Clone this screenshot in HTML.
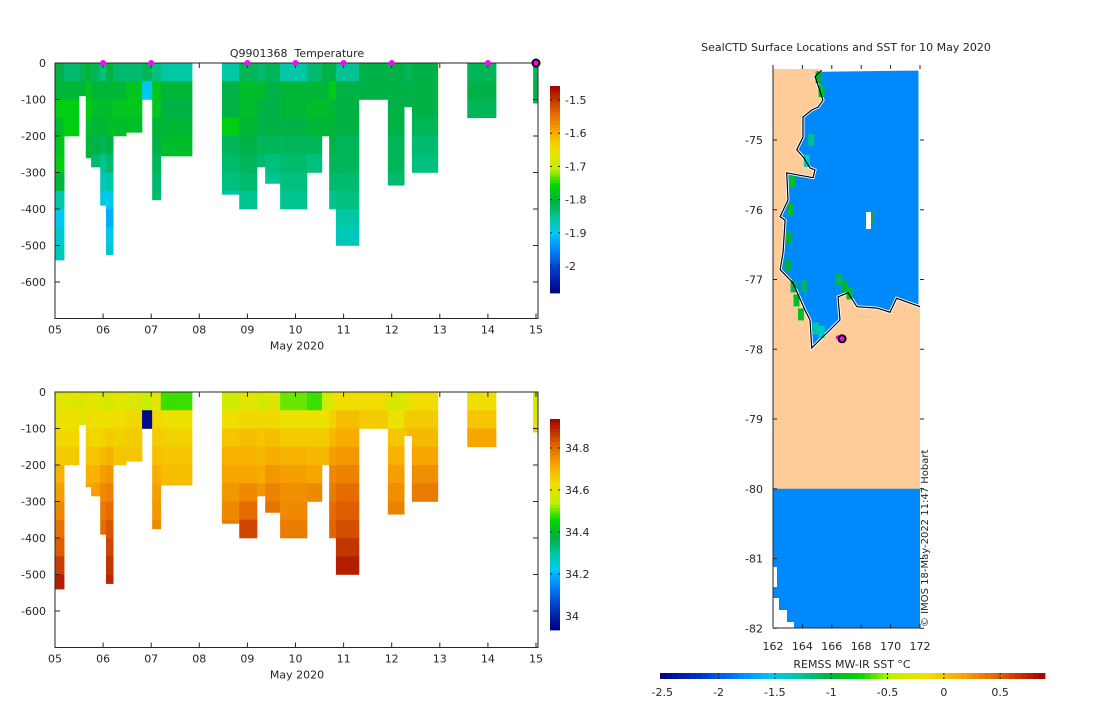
<!DOCTYPE html>
<html><head><meta charset="utf-8">
<style>
html,body{margin:0;padding:0;background:#fff;}
svg text{font-family:"DejaVu Sans","Liberation Sans",sans-serif;fill:#262626;white-space:pre;}
</style></head>
<body>
<svg id="fig" width="1100" height="700" viewBox="0 0 1100 700" xmlns="http://www.w3.org/2000/svg">
<rect x="0" y="0" width="1100" height="700" fill="#fff"/>
<g id="top"></g>
<g id="bot"></g>
<g id="map"></g>
</svg>
<script>
// ---- profile data ----
const colStart=[5.00,5.19,5.50,5.64,5.75,5.94,6.06,6.21,6.48,6.81,7.02,7.20,8.47,8.83,9.20,9.37,9.68,10.24,10.55,10.70,10.84,11.32,11.92,12.26,12.42,13.57,14.94];
const colEnd=[5.19,5.50,5.64,5.75,5.94,6.06,6.21,6.48,6.81,7.02,7.20,7.85,8.83,9.20,9.37,9.68,10.24,10.55,10.70,10.84,11.32,11.92,12.26,12.42,12.96,14.17,15.04];
const colDepth=[540,200,90,260,285,390,525,200,190,100,375,255,360,400,285,330,400,300,200,400,500,100,335,120,300,150,110];
const tempProfiles=[
[-1.81,-1.80,-1.77,-1.79,-1.78,-1.77,-1.80,-1.86,-1.90,-1.88,-1.87],
[-1.83,-1.80,-1.77,-1.77],
[-1.82,-1.80],
[-1.80,-1.78,-1.77,-1.79,-1.80,-1.81],
[-1.82,-1.80,-1.79,-1.80,-1.81,-1.83],
[-1.84,-1.80,-1.79,-1.80,-1.82,-1.85,-1.87,-1.89],
[-1.81,-1.80,-1.79,-1.79,-1.81,-1.83,-1.86,-1.90,-1.92,-1.90,-1.88],
[-1.83,-1.80,-1.78,-1.79],
[-1.83,-1.78,-1.78,-1.79],
[-1.82,-1.90],
[-1.84,-1.78,-1.78,-1.80,-1.81,-1.82,-1.83,-1.83],
[-1.86,-1.80,-1.81,-1.80,-1.79,-1.80],
[-1.86,-1.81,-1.81,-1.77,-1.82,-1.83,-1.84,-1.86],
[-1.82,-1.79,-1.79,-1.80,-1.81,-1.82,-1.83,-1.85],
[-1.83,-1.79,-1.81,-1.81,-1.82,-1.83],
[-1.82,-1.81,-1.81,-1.81,-1.82,-1.84,-1.85],
[-1.86,-1.80,-1.80,-1.81,-1.82,-1.83,-1.84,-1.85],
[-1.83,-1.80,-1.79,-1.80,-1.82,-1.84],
[-1.81,-1.80,-1.79,-1.80],
[-1.81,-1.77,-1.80,-1.80,-1.81,-1.82,-1.83,-1.85],
[-1.85,-1.81,-1.81,-1.81,-1.82,-1.82,-1.83,-1.84,-1.86,-1.87],
[-1.81,-1.81],
[-1.81,-1.81,-1.81,-1.81,-1.82,-1.82,-1.83],
[-1.82,-1.81,-1.81],
[-1.81,-1.81,-1.81,-1.82,-1.83,-1.84],
[-1.82,-1.81,-1.82],
[-1.82,-1.81,-1.81]];
const salProfiles=[
[34.60,34.62,34.64,34.66,34.70,34.73,34.76,34.79,34.82,34.86,34.90],
[34.59,34.62,34.64,34.66],
[34.58,34.60],
[34.60,34.63,34.65,34.67,34.70,34.72],
[34.60,34.62,34.64,34.67,34.70,34.73],
[34.58,34.62,34.65,34.69,34.73,34.76,34.78,34.80],
[34.58,34.62,34.66,34.70,34.74,34.77,34.80,34.83,34.85,34.87,34.89],
[34.60,34.63,34.65,34.67],
[34.59,34.64,34.66,34.67],
[34.55,33.95],
[34.60,34.64,34.66,34.68,34.71,34.73,34.74,34.76],
[34.48,34.62,34.65,34.67,34.68,34.69],
[34.56,34.63,34.67,34.70,34.72,34.74,34.76,34.78],
[34.60,34.64,34.68,34.70,34.72,34.76,34.80,34.85],
[34.56,34.64,34.67,34.69,34.71,34.74],
[34.59,34.64,34.68,34.71,34.74,34.77,34.79],
[34.50,34.62,34.66,34.70,34.73,34.75,34.76,34.78],
[34.48,34.62,34.66,34.69,34.72,34.76],
[34.56,34.62,34.66,34.69],
[34.60,34.65,34.69,34.73,34.76,34.78,34.80,34.81],
[34.63,34.68,34.71,34.74,34.77,34.80,34.82,34.84,34.87,34.90],
[34.63,34.66],
[34.58,34.62,34.67,34.70,34.73,34.75,34.77],
[34.60,34.66,34.68],
[34.63,34.66,34.69,34.72,34.75,34.78],
[34.63,34.67,34.72],
[34.56,34.60,34.66]];
const binSize=50;
const markerDays=[6,7,9,10,11,12,14];
const lastDay=15;
const xTickDays=[5,6,7,8,9,10,11,12,13,14,15];
const xTickLabels=["05","06","07","08","09","10","11","12","13","14","15"];
const yTickDepths=[0,100,200,300,400,500,600];
const tempCbTicks=[-1.5,-1.6,-1.7,-1.8,-1.9,-2];
const salCbTicks=[34.8,34.6,34.4,34.2,34];
const tempRange=[-2.081,-1.458];
const salRange=[33.933,34.938];
// ---- map data ----
const coastLon=[165.31,164.86,165.40,165.06,164.63,164.04,164.04,163.61,164.04,164.52,164.86,164.72,162.93,163.02,162.48,162.82,162.68,162.48,163.36,164.18,164.52,164.63,166.56,166.42,167.10,167.71,169.07,169.96,170.41,172.00];
const coastLat=[-74.00,-74.09,-74.43,-74.53,-74.57,-74.67,-74.96,-75.14,-75.24,-75.40,-75.43,-75.54,-75.47,-75.86,-76.10,-76.15,-76.62,-76.86,-77.05,-77.44,-77.58,-77.98,-77.58,-77.25,-77.19,-77.39,-77.41,-77.47,-77.27,-77.39];
const seaSST=-1.8;
const coastCellLon=[165.1,165.3,164.6,164.3,163.3,163.2,163.1,163.0,163.4,163.6,163.9,164.1,166.5,166.9,167.2,164.9,165.3];
const coastCellLat=[-74.1,-74.3,-75.0,-75.3,-75.6,-76.0,-76.4,-76.8,-77.1,-77.3,-77.5,-77.1,-77.0,-77.1,-77.2,-77.7,-77.75];
const coastCellSST=[-1.0,-0.9,-1.2,-1.4,-0.9,-0.95,-1.0,-1.0,-1.1,-0.95,-0.9,-1.1,-1.1,-1.0,-0.9,-1.3,-1.4];
const shipLon=[166.4,166.7];
const shipLat=[-77.83,-77.85];
const lonTicks=[162,164,166,168,170,172];
const latTicks=[-75,-76,-77,-78,-79,-80,-81,-82];
const sstTicks=[-2.5,-2,-1.5,-1,-0.5,0,0.5];
const sstRange=[-2.52,0.898];

const NS="http://www.w3.org/2000/svg";
function mk(parent,tag,attrs,txt){const e=document.createElementNS(NS,tag);for(const k in attrs)e.setAttribute(k,attrs[k]);if(txt!==undefined)e.textContent=txt;parent.appendChild(e);return e;}
const stops=[[0,[0,0,128]],[0.12,[0,64,208]],[0.22,[0,144,255]],[0.29,[0,200,240]],[0.36,[0,200,160]],[0.44,[0,176,64]],[0.52,[0,216,0]],[0.6,[192,240,0]],[0.69,[240,224,0]],[0.78,[248,168,0]],[0.88,[224,96,0]],[1,[160,0,0]]];
function cmap(t){t=Math.max(0,Math.min(1,t));for(let i=1;i<stops.length;i++){if(t<=stops[i][0]){const a=stops[i-1],b=stops[i];const f=(t-a[0])/(b[0]-a[0]);const c=a[1].map((v,k)=>Math.round(v+(b[1][k]-v)*f));return `rgb(${c[0]},${c[1]},${c[2]})`;}}return "rgb(160,0,0)";}

function panel(g,y0,profiles,range,cbTop,cbBot,cbTicks,title,isTemp){
  const xS=d=>55+(d-5)*48.1;
  const yS=dep=>y0+dep*0.365;
  const x1=538,yb=y0+255.5;
  if(title){const t=mk(g,'text',{x:297,y:y0-6,'text-anchor':'middle','font-size':11},title);}
  for(let i=0;i<colStart.length;i++){
    const prof=profiles[i];
    for(let j=0;j<prof.length;j++){
      const d0=j*binSize,d1=Math.min((j+1)*binSize,colDepth[i]);
      if(d1<=d0)continue;
      const r=mk(g,'rect',{x:xS(colStart[i]),y:yS(d0),width:xS(colEnd[i])-xS(colStart[i])+0.3,height:yS(d1)-yS(d0)+0.3,fill:cmap((prof[j]-range[0])/(range[1]-range[0]))});
      
      
    }
  }
  const ax=mk(g,'rect',{x:55,y:y0,width:x1-55,height:yb-y0,fill:'none',stroke:'#262626','stroke-width':1});
  
  xTickDays.forEach((d,i)=>{const x=xS(d);
    mk(g,'line',{x1:x,x2:x,y1:yb,y2:yb-5,stroke:'#262626'});
    mk(g,'line',{x1:x,x2:x,y1:y0,y2:y0+5,stroke:'#262626'});
    const t=mk(g,'text',{x:x,y:yb+15,'text-anchor':'middle','font-size':11},xTickLabels[i]);
    });
  yTickDepths.forEach(dp=>{const y=yS(dp);
    mk(g,'line',{x1:55,x2:60,y1:y,y2:y,stroke:'#262626'});
    mk(g,'line',{x1:x1,x2:x1-5,y1:y,y2:y,stroke:'#262626'});
    const t=mk(g,'text',{x:46,y:y+4,'text-anchor':'end','font-size':11},dp===0?'0':'-'+dp);
    });
  const xl=mk(g,'text',{x:297,y:yb+31,'text-anchor':'middle','font-size':11},'May 2020');
  
  if(isTemp){
    markerDays.forEach(d=>{const m=mk(g,'circle',{cx:xS(d),cy:y0,r:3,fill:'#ff00ff'});});
    const m=mk(g,'circle',{cx:xS(lastDay),cy:y0,r:3.5,fill:'#ff00ff',stroke:'#000','stroke-width':2});
    
  }
  const cb=mk(g,'g',{});
  const n=64,h=(cbBot-cbTop)/n;
  for(let k=0;k<n;k++)mk(cb,'rect',{x:550,y:cbTop+k*h,width:10,height:h+0.4,fill:cmap(1-(k+0.5)/n)});
  const vy=v=>cbBot-(v-range[0])/(range[1]-range[0])*(cbBot-cbTop);
  cbTicks.forEach(v=>{const y=vy(v);
    mk(cb,'line',{x1:550,x2:552,y1:y,y2:y,stroke:'#262626'});
    mk(cb,'line',{x1:560,x2:558,y1:y,y2:y,stroke:'#262626'});
    const t=mk(cb,'text',{x:565,y:y+4,'font-size':11},String(v));
    });
}
panel(document.getElementById('top'),63,tempProfiles,tempRange,86,293,tempCbTicks,'Q9901368  Temperature',true);
panel(document.getElementById('bot'),392,salProfiles,salRange,419,630,salCbTicks,null,false);

(function(){
  const g=document.getElementById('map');
  const lx=lon=>773+(lon-162)*14.7;
  const ly=lat=>140+(-75-lat)*69.75;
  const sst=v=>cmap((v-sstRange[0])/(sstRange[1]-sstRange[0]));
  const t=mk(g,'text',{x:846,y:51,'text-anchor':'middle','font-size':11},'SealCTD Surface Locations and SST for 10 May 2020');
  
  const land=mk(g,'rect',{x:773,y:69,width:147,height:421,fill:'#ffcc99'});
  
  let pts=coastLon.map((lo,i)=>lx(lo).toFixed(1)+','+ly(coastLat[i]).toFixed(1));
  pts.push('920,69');
  mk(g,'polygon',{points:pts.join(' '),fill:'#fff'});
  const oc=mk(g,'polygon',{points:pts.join(' '),fill:sst(seaSST),stroke:'#fff','stroke-width':3,'stroke-linejoin':'miter'});
  
  coastCellLon.forEach((lo,i)=>{const c=mk(g,'rect',{x:lx(lo)-3,y:ly(coastCellLat[i])-6,width:6,height:12,fill:sst(coastCellSST[i])});});
  const cl=mk(g,'polyline',{points:coastLon.map((lo,i)=>lx(lo).toFixed(1)+','+ly(coastLat[i]).toFixed(1)).join(' '),fill:'none',stroke:'#000','stroke-width':1.2});
  
  mk(g,'rect',{x:866,y:212,width:5,height:17,fill:'#fff'});
  mk(g,'rect',{x:871,y:212,width:3,height:12,fill:sst(-1.0)});
  const so=mk(g,'rect',{x:773,y:ly(-80),width:147,height:ly(-82)-ly(-80),fill:sst(seaSST)});
  
  mk(g,'rect',{x:773,y:567,width:4,height:20,fill:'#fff'});
  mk(g,'rect',{x:773,y:598,width:6,height:30,fill:'#fff'});
  mk(g,'rect',{x:773,y:610,width:14,height:18,fill:'#fff'});
  mk(g,'rect',{x:773,y:622,width:21,height:6,fill:'#fff'});
  const sh=mk(g,'circle',{cx:lx(shipLon[0]),cy:ly(shipLat[0]),r:2,fill:'#ff00ff'});
  
  const sc=mk(g,'circle',{cx:lx(shipLon[1]),cy:ly(shipLat[1]),r:3.5,fill:'#ff00ff',stroke:'#000','stroke-width':2});
  
  mk(g,'line',{x1:773,x2:773,y1:69,y2:628,stroke:'#262626'});
  mk(g,'line',{x1:773,x2:920,y1:628,y2:628,stroke:'#262626'});
  lonTicks.forEach(lo=>{const x=lx(lo);
    mk(g,'line',{x1:x,x2:x,y1:628,y2:624,stroke:'#262626'});
    mk(g,'line',{x1:x,x2:x,y1:69,y2:65,stroke:'#262626'});
    const tt=mk(g,'text',{x:x,y:650,'text-anchor':'middle','font-size':11},String(lo));
    });
  latTicks.forEach(la=>{const y=ly(la);
    mk(g,'line',{x1:773,x2:777,y1:y,y2:y,stroke:'#262626'});
    mk(g,'line',{x1:920,x2:924,y1:y,y2:y,stroke:'#262626'});
    const tt=mk(g,'text',{x:763,y:y+4,'text-anchor':'end','font-size':11},String(la));
    });
  const cr=mk(g,'text',{x:0,y:0,'font-size':10,transform:'translate(928,627) rotate(-90)'},'© IMOS 18-May-2022 11:47 Hobart');
  
  const cb=mk(g,'g',{});
  const n=64,w=(1045-660)/n;
  for(let k=0;k<n;k++)mk(cb,'rect',{x:660+k*w,y:673,width:w+0.4,height:6,fill:cmap((k+0.5)/n)});
  const vx=v=>660+(v-sstRange[0])/(sstRange[1]-sstRange[0])*385;
  sstTicks.forEach(v=>{const x=vx(v);
    mk(cb,'line',{x1:x,x2:x,y1:673,y2:675,stroke:'#262626'});
    mk(cb,'line',{x1:x,x2:x,y1:679,y2:677,stroke:'#262626'});
    const tt=mk(cb,'text',{x:x,y:696,'text-anchor':'middle','font-size':11},String(v));
    });
  const lb=mk(g,'text',{x:852,y:668,'text-anchor':'middle','font-size':11},'REMSS MW-IR SST °C');
  
})();
</script>
</body></html>
